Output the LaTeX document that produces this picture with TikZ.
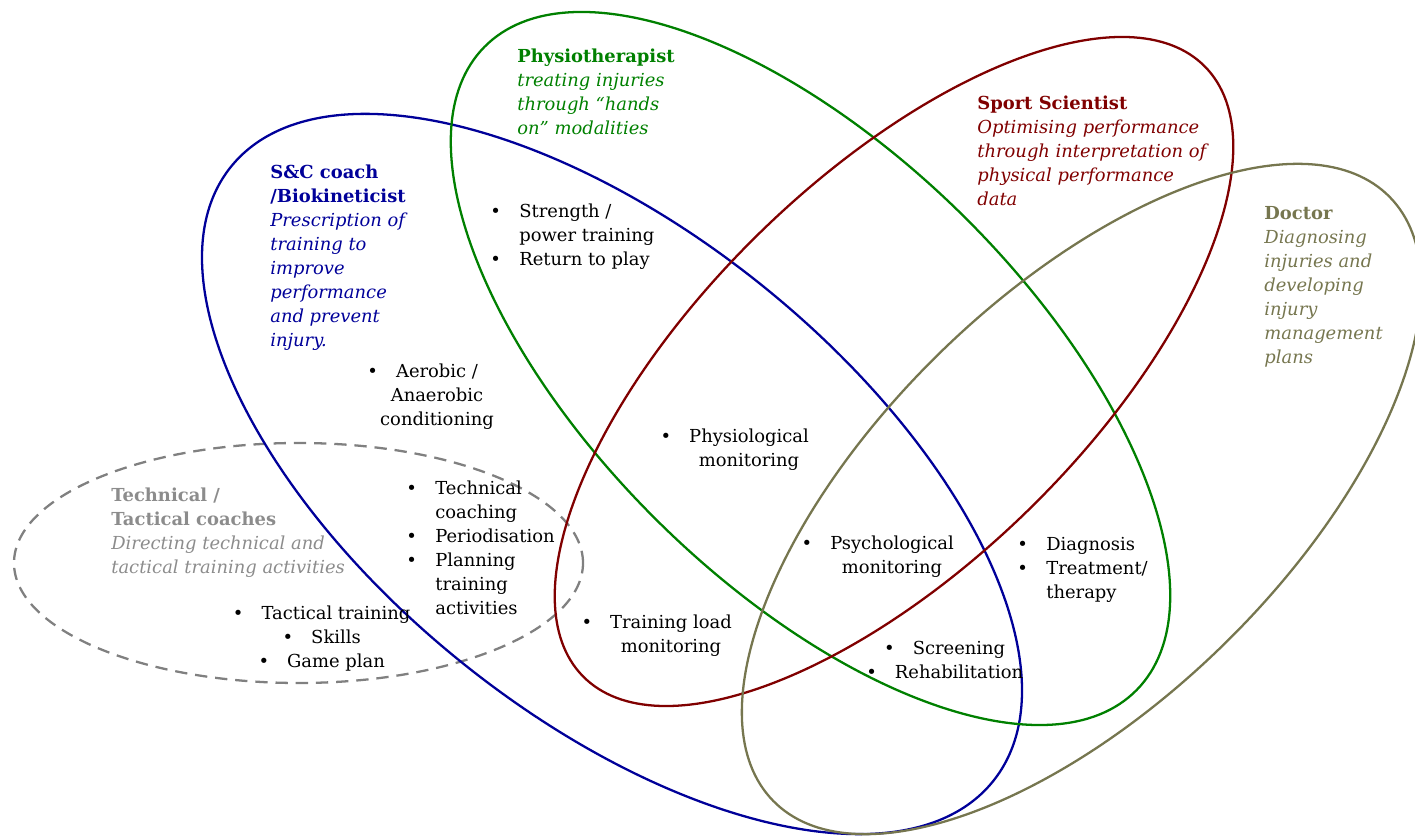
\documentclass[tikz,border=0pt]{standalone}
\usepackage{fontspec}
\setmainfont{DejaVu Serif}
\usepackage{xcolor}
\definecolor{ringSC}{HTML}{000099}
\definecolor{ringPhysio}{HTML}{008000}
\definecolor{ringSport}{HTML}{800000}
\definecolor{ringDoctor}{HTML}{76764F}
\definecolor{ringTech}{HTML}{808080}
\definecolor{textTech}{HTML}{8C8C8C}
\newcommand{\rolename}[1]{\textbf{\upshape #1}}
\newcommand{\bpt}{\makebox[0.58cm][l]{\textbullet}}
\newcommand{\bsp}{\hspace*{0.58cm}}
\newcommand{\cbul}{\llap{\textbullet\hspace{0.36cm}}}
\tikzset{
  ring/.style={line width=1.3pt},
  role/.style={anchor=base west, inner sep=0pt, font=\fontsize{10.2}{13.6}\selectfont\itshape},
  task/.style={anchor=base west, inner sep=0pt, font=\fontsize{10.2}{13.6}\selectfont},
  ctask/.style={anchor=base, inner sep=0pt, font=\fontsize{10.2}{13.6}\selectfont},
}

\begin{document}
\begin{tikzpicture}
  \useasboundingbox (0,0) rectangle (28.30,16.72);
  \draw[ring, ringTech, dash pattern=on 7pt off 4.5pt] (5.97,5.46) ellipse (5.69cm and 2.40cm);
  \draw[ring, ringSC, rotate around={-38.9:(12.24,7.24)}] (12.24,7.24) ellipse (9.79cm and 4.82cm);
  \draw[ring, ringPhysio, rotate around={-44.6:(16.21,9.35)}] (16.21,9.35) ellipse (9.16cm and 4.32cm);
  \draw[ring, ringSport, rotate around={44.4:(17.88,9.29)}] (17.88,9.29) ellipse (8.71cm and 3.86cm);
  \draw[ring, ringDoctor, rotate around={44.4:(21.63,6.74)}] (21.63,6.74) ellipse (8.63cm and 4.07cm);

  \node[role, text=ringPhysio] (physio) at (10.34,15.46) {\begin{tabular}[t]{@{}l@{}}\rolename{Physiotherapist}\\treating injuries\\through “hands\\on” modalities\end{tabular}};
  \node[role, text=ringSC] (sc) at (5.40,13.14) {\begin{tabular}[t]{@{}l@{}}\rolename{S\&C coach}\\\rolename{/Biokineticist}\\Prescription of\\training to\\improve\\performance\\and prevent\\injury.\end{tabular}};
  \node[role, text=ringSport] (sport) at (19.54,14.52) {\begin{tabular}[t]{@{}l@{}}\rolename{Sport Scientist}\\Optimising performance\\through interpretation of\\physical performance\\data\end{tabular}};
  \node[role, text=ringDoctor] (doctor) at (25.28,12.32) {\begin{tabular}[t]{@{}l@{}}\rolename{Doctor}\\Diagnosing\\injuries and\\developing\\injury\\management\\plans\end{tabular}};
  \node[role, text=textTech] (tech) at (2.22,6.68) {\begin{tabular}[t]{@{}l@{}}\rolename{Technical /}\\\rolename{Tactical coaches}\\Directing technical and\\tactical training activities\end{tabular}};

  \node[task] (strength) at (9.80,12.36) {\begin{tabular}[t]{@{}l@{}}\bpt Strength /\\\bsp power training\\\bpt Return to play\end{tabular}};
  \node[ctask] (aerobic) at (8.74,9.16) {\begin{tabular}[t]{@{}c@{}}\cbul Aerobic /\\Anaerobic\\conditioning\end{tabular}};
  \node[ctask] (physiol) at (14.98,7.86) {\begin{tabular}[t]{@{}c@{}}\cbul Physiological\\monitoring\end{tabular}};
  \node[task] (coaching) at (8.12,6.82) {\begin{tabular}[t]{@{}l@{}}\bpt Technical\\\bsp coaching\\\bpt Periodisation\\\bpt Planning\\\bsp training\\\bsp activities\end{tabular}};
  \node[ctask] (tactical) at (6.72,4.32) {\begin{tabular}[t]{@{}c@{}}\cbul Tactical training\\\cbul Skills\\\cbul Game plan\end{tabular}};
  \node[ctask] (psych) at (17.84,5.72) {\begin{tabular}[t]{@{}c@{}}\cbul Psychological\\monitoring\end{tabular}};
  \node[task] (diagnosis) at (20.34,5.70) {\begin{tabular}[t]{@{}l@{}}\bpt Diagnosis\\\bpt Treatment/\\\bsp therapy\end{tabular}};
  \node[ctask] (load) at (13.42,4.14) {\begin{tabular}[t]{@{}c@{}}\cbul Training load\\monitoring\end{tabular}};
  \node[ctask] (screening) at (19.18,3.62) {\begin{tabular}[t]{@{}c@{}}\cbul Screening\\\cbul Rehabilitation\end{tabular}};
\end{tikzpicture}
\end{document}
